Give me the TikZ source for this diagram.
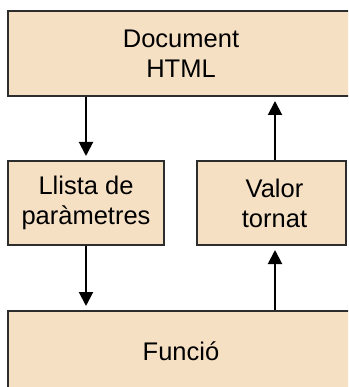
\documentclass[tikz,border=0pt]{standalone}
\usepackage{fontspec}
\setmainfont{Liberation Sans}
\usetikzlibrary{arrows.meta}
\definecolor{boxfill}{RGB}{246,224,195}
\definecolor{boxline}{RGB}{45,45,45}
\begin{document}
\begin{tikzpicture}[x=1pt,y=-1pt,
  block/.style={draw=boxline, fill=boxfill, line width=2pt, rectangle,
    align=center, inner sep=0pt,
    font=\fontsize{25.5}{30}\selectfont},
  flow/.style={line width=2pt, -{Triangle[width=14pt,length=14pt]}, shorten >=4pt}]
  \useasboundingbox (0,0) rectangle (348,387);
  \clip (0,0) rectangle (348,387);
  \node[block, minimum width=346pt, minimum height=85pt] (doc) at (181,53.5) {Document\\HTML};
  \node[block, minimum width=156pt, minimum height=84pt] (params) at (86,203) {Llista de\\paràmetres};
  \node[block, minimum width=149pt, minimum height=84pt] (ret) at (271.5,203) {\hspace*{6pt}Valor\\\hspace*{6pt}tornat};
  \node[block, minimum width=346pt, minimum height=80pt] (func) at (181,351) {Funció};
  \coordinate (lx) at (86,0);
  \coordinate (rx) at (275,0);
  \draw[flow] (doc.south -| lx) -- (params.north);
  \draw[flow] (params.south) -- (func.north -| lx);
  \draw[flow] (func.north -| rx) -- (ret.south -| rx);
  \draw[flow] (ret.north -| rx) -- (doc.south -| rx);
\end{tikzpicture}
\end{document}
